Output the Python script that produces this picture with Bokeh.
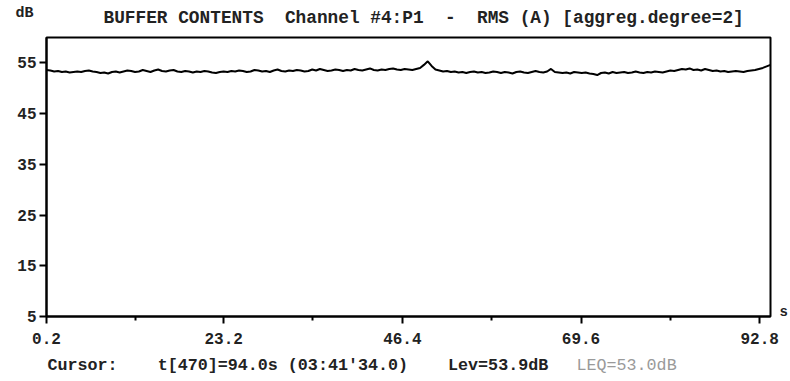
from bokeh.plotting import figure
from bokeh.models import FixedTicker, Label, Range1d, LinearAxis
from bokeh.layouts import column
from bokeh.embed import file_html
from bokeh.resources import INLINE

# ---- data ----
T_START = 0.2
T_STEP = 0.5
levels_db = [
    53.6, 53.5, 53.3, 53.4, 53.2, 53.3, 53.1, 53.2, 53.3, 53.2, 53.4, 53.5, 53.3, 53.2, 53.0, 53.1, 52.9, 53.2, 53.3, 53.1,
    53.3, 53.5, 53.4, 53.2, 53.3, 53.6, 53.4, 53.2, 53.5, 53.7, 53.4, 53.3, 53.5, 53.6, 53.3, 53.2, 53.4, 53.3, 53.1, 53.3,
    53.2, 53.4, 53.3, 53.1, 53.0, 53.2, 53.3, 53.2, 53.4, 53.3, 53.5, 53.4, 53.2, 53.3, 53.6, 53.5, 53.3, 53.4, 53.2, 53.5,
    53.7, 53.4, 53.3, 53.5, 53.4, 53.6, 53.5, 53.3, 53.4, 53.7, 53.5, 53.8, 53.6, 53.4, 53.5, 53.7, 53.6, 53.4, 53.6, 53.5,
    53.8, 53.6, 53.5, 53.7, 53.9, 53.6, 53.5, 53.7, 53.6, 53.8, 53.9, 53.7, 53.6, 53.8, 53.7, 53.6, 53.8, 54.0, 54.6, 55.3,
    54.4, 53.7, 53.5, 53.3, 53.4, 53.2, 53.3, 53.1, 53.2, 53.0, 53.2, 53.3, 53.1, 53.2, 53.0, 53.1, 53.3, 53.2, 53.0, 53.2,
    53.1, 52.9, 53.2, 53.3, 53.1, 53.0, 53.2, 53.4, 53.2, 53.1, 53.3, 53.8, 53.2, 53.1, 53.0, 53.1, 52.9, 53.2, 53.1, 53.0,
    53.1, 52.9, 52.8, 52.6, 53.0, 53.1, 52.9, 53.2, 53.0, 53.1, 53.2, 53.0, 53.1, 53.3, 53.1, 53.0, 53.2, 53.1, 53.3, 53.2,
    53.1, 53.3, 53.5, 53.4, 53.6, 53.8, 53.7, 53.9, 53.6, 53.7, 53.5, 53.8, 53.6, 53.4, 53.5, 53.3, 53.4, 53.2, 53.3, 53.4,
    53.3, 53.2, 53.4, 53.5, 53.6, 53.8, 54.0, 54.3, 54.6,
]
times_s = [round(T_START + i * T_STEP, 2) for i in range(len(levels_db))]

x_major_ticks = [0.2, 23.2, 46.4, 69.6, 92.8]
x_minor_ticks = [11.7, 34.8, 58.0, 81.2]
x_tick_labels = ["0.2", "23.2", "46.4", "69.6", "92.8"]
y_major_ticks = [5, 15, 25, 35, 45, 55]
y_tick_labels = ["5", "15", "25", "35", "45", "55"]
x_unit_tick = 5.8
x_unit_label = "s"

NB = "\u00a0"
unit_text = "dB"
title_text = "BUFFER CONTENTS  Channel #4:P1  -  RMS (A) [aggreg.degree=2]".replace(" ", NB)
cursor_text = "Cursor:    t[470]=94.0s (03:41'34.0)    Lev=53.9dB".replace(" ", NB)
leq_text = "LEQ=53.0dB"

W = 790
TOP_H, MAIN_H, BOT_H = 30, 322, 29
FL, FR, FT, FB = 46, 770, 37, 316  # frame edges in page pixels
FONT = "Liberation Mono"
INK = "#222222"


def text_strip(height):
    # frames of a column are aligned with the main plot frame (FL..FR),
    # so the x range is expressed in page pixels
    f = figure(width=W, height=height, output_backend="svg", toolbar_location=None,
               x_range=Range1d(FL, FR), y_range=Range1d(0, height),
               x_axis_location=None, y_axis_location=None,
               min_border_left=FL, min_border_right=W - FR,
               min_border_top=0, min_border_bottom=0)
    f.outline_line_color = None
    f.grid.visible = False
    f.background_fill_color = "white"
    f.border_fill_color = "white"
    return f


def add_label(f, txt, px, y, size, color=INK, style="bold"):
    f.add_layout(Label(x=px, y=y, text=txt, text_font=FONT,
                       text_font_size=size, text_font_style=style,
                       text_color=color, text_align="left",
                       text_baseline="middle"))


# ---- top strip: "dB" unit + title ----
top = text_strip(TOP_H)
db_tick = TOP_H - 13
db_axis = LinearAxis(ticker=FixedTicker(ticks=[db_tick], minor_ticks=[]),
                     major_label_overrides={db_tick: unit_text},
                     axis_line_color=None, major_tick_line_color=None,
                     minor_tick_line_color=None, major_tick_out=0, major_tick_in=0,
                     major_label_standoff=FL - 33, major_label_text_font=FONT,
                     major_label_text_font_size="15px",
                     major_label_text_font_style="bold",
                     major_label_text_color=INK)
top.add_layout(db_axis, "left")
add_label(top, title_text, 103, TOP_H - 17, "17.8px")

# ---- main plot ----
p = figure(width=W, height=MAIN_H, output_backend="svg", toolbar_location=None,
           x_range=Range1d(0.2, 94.2), y_range=Range1d(5, 60),
           min_border_left=FL, min_border_right=W - FR,
           min_border_top=FT - TOP_H, min_border_bottom=TOP_H + MAIN_H - FB)
p.background_fill_color = "white"
p.border_fill_color = "white"
p.grid.visible = False
p.outline_line_color = "black"
p.outline_line_width = 2

p.line(times_s, levels_db, line_color="black", line_width=2)

xa = p.xaxis[0]
xa.ticker = FixedTicker(ticks=x_major_ticks, minor_ticks=x_minor_ticks)
xa.major_label_overrides = dict(zip(x_major_ticks, x_tick_labels))
ya = p.yaxis[0]
ya.ticker = FixedTicker(ticks=y_major_ticks, minor_ticks=[])
ya.major_label_overrides = dict(zip(y_major_ticks, y_tick_labels))

for ax in (xa, ya):
    ax.axis_line_color = "black"
    ax.axis_line_width = 2
    ax.major_tick_line_color = "black"
    ax.major_tick_line_width = 2
    ax.major_tick_in = 0
    ax.major_tick_out = 7
    ax.minor_tick_line_color = "black"
    ax.minor_tick_line_width = 2
    ax.minor_tick_in = 0
    ax.minor_tick_out = 4
    ax.major_label_text_font = FONT
    ax.major_label_text_font_size = "16px"
    ax.major_label_text_font_style = "bold"
    ax.major_label_text_color = INK
ya.major_label_standoff = 3
xa.major_label_standoff = 9

unit_axis = LinearAxis(ticker=FixedTicker(ticks=[x_unit_tick], minor_ticks=[]),
                       major_label_overrides={x_unit_tick: x_unit_label},
                       axis_line_color=None, major_tick_line_color=None,
                       minor_tick_line_color=None, major_tick_out=0, major_tick_in=0,
                       major_label_standoff=9, major_label_text_font=FONT,
                       major_label_text_font_size="14px",
                       major_label_text_font_style="bold",
                       major_label_text_color=INK)
p.add_layout(unit_axis, "right")

# ---- bottom strip: cursor read-out ----
bottom = text_strip(BOT_H)
page_h = TOP_H + MAIN_H + BOT_H
add_label(bottom, cursor_text, 47, page_h - 365, "16.7px")
add_label(bottom, leq_text, 576, page_h - 365, "16.7px", color="#9a9a9a", style="normal")

layout = column(top, p, bottom, spacing=0)
open("out.html", "w").write(file_html(layout, INLINE))
